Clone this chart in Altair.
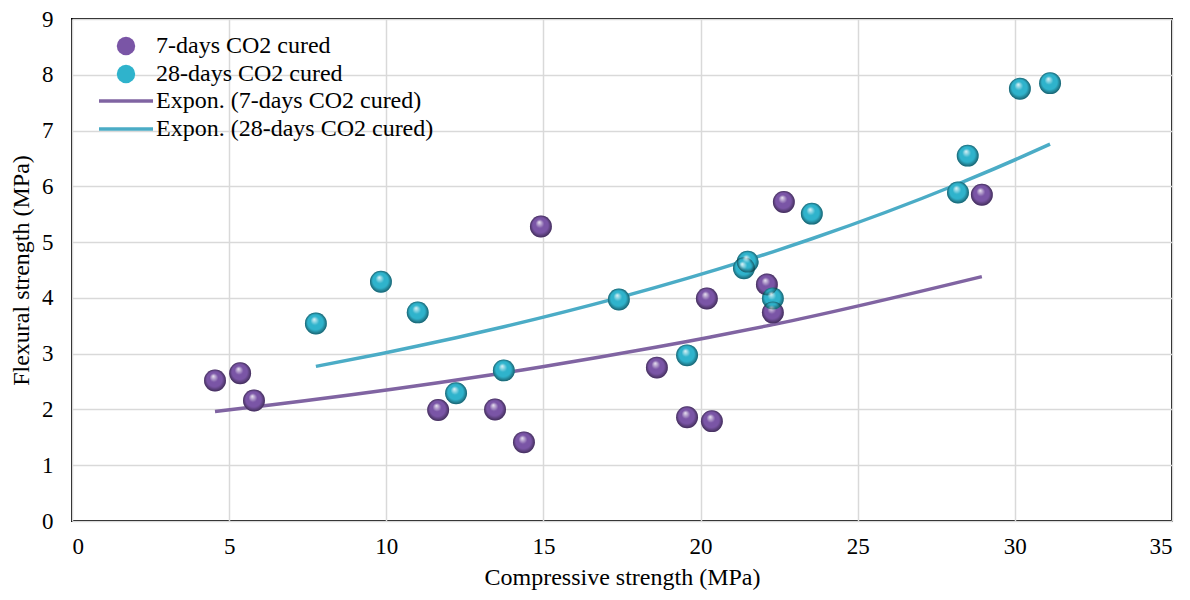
import altair as alt
import pandas as pd

seven_x = [4.55, 5.35, 5.79, 11.65, 13.46, 14.38, 14.92, 18.61, 19.57, 20.20, 20.36, 22.11, 22.30, 22.65, 28.95]
seven_y = [2.52, 2.65, 2.16, 1.99, 2.00, 1.41, 5.28, 2.75, 1.86, 3.99, 1.79, 4.24, 3.74, 5.72, 5.85]
twenty_x = [7.76, 9.83, 11.00, 12.22, 13.74, 17.40, 19.57, 21.38, 21.50, 22.30, 23.54, 28.19, 28.50, 30.16, 31.12]
twenty_y = [3.54, 4.29, 3.74, 2.29, 2.70, 3.97, 2.97, 4.53, 4.65, 3.99, 5.51, 5.89, 6.55, 7.75, 7.85]

series_names = ["7-days CO2 cured", "28-days CO2 cured"]
point_colors = ["#7a55a6", "#2fb3cc"]
line_labels = ["Expon. (7-days CO2 cured)", "Expon. (28-days CO2 cured)"]
line_colors = ["#8064A2", "#4BACC6"]

df = pd.DataFrame({
    "x": seven_x + twenty_x,
    "y": seven_y + twenty_y,
    "series": [series_names[0]] * len(seven_x) + [series_names[1]] * len(twenty_x),
})

FONT = "Liberation Serif"

x_axis = alt.Axis(values=list(range(0, 36, 5)), title="Compressive strength (MPa)", titlePadding=7)
y_axis = alt.Axis(values=list(range(0, 10)), title="Flexural strength (MPa)", titlePadding=8)
xscale = alt.Scale(domain=[0, 35], nice=False)
yscale = alt.Scale(domain=[0, 9], nice=False)

base = alt.Chart(df)

# Exponential trend (least squares on ln y, like a spreadsheet "Expon." trendline)
lines = base.transform_calculate(
    ly="log(datum.y)", xly="datum.x * log(datum.y)", xx="datum.x * datum.x"
).transform_joinaggregate(
    mx="mean(x)", mly="mean(ly)", mxly="mean(xly)", mxx="mean(xx)", groupby=["series"]
).transform_calculate(
    b="(datum.mxly - datum.mx * datum.mly) / (datum.mxx - datum.mx * datum.mx)"
).transform_calculate(
    fit="exp(datum.mly - datum.b * datum.mx + datum.b * datum.x)",
    label="'Expon. (' + datum.series + ')'",
).mark_line(strokeWidth=3.5, interpolate="monotone").encode(
    x=alt.X("x:Q", scale=xscale, axis=x_axis),
    y=alt.Y("fit:Q", scale=yscale, axis=y_axis),
    order="x:Q",
    stroke=alt.Stroke("label:N", scale=alt.Scale(domain=line_labels, range=line_colors),
                      legend=alt.Legend(title=None, orient="none", legendX=42, legendY=70,
                                        symbolType="M-3,0H3", symbolSize=324,
                                        symbolStrokeWidth=3.5, labelFontSize=24,
                                        labelFont=FONT, labelColor="black", rowPadding=4,
                                        padding=0, labelOffset=18, labelLimit=500)),
)

points = base.mark_point(filled=True, size=480, opacity=1, strokeWidth=0).encode(
    x=alt.X("x:Q", scale=xscale, axis=x_axis),
    y=alt.Y("y:Q", scale=yscale, axis=y_axis),
    fill=alt.Fill("series:N", scale=alt.Scale(domain=series_names, range=point_colors),
                  legend=alt.Legend(title=None, orient="none", legendX=42, legendY=15,
                                    symbolType="circle", symbolSize=340,
                                    labelFontSize=24, labelFont=FONT, labelColor="black",
                                    rowPadding=4, padding=0, labelOffset=18, labelLimit=500)),
)

shine = base.mark_point(
    filled=True, size=480, opacity=1, strokeWidth=0,
    fill=alt.Gradient(
        gradient="radial",
        stops=[
            alt.GradientStop(offset=0, color="rgba(255,255,255,0.85)"),
            alt.GradientStop(offset=0.4, color="rgba(255,255,255,0)"),
            alt.GradientStop(offset=0.7, color="rgba(0,0,0,0)"),
            alt.GradientStop(offset=1, color="rgba(0,0,0,0.45)"),
        ],
        x1=0.42, y1=0.3, r1=0, x2=0.5, y2=0.5, r2=0.5,
    ),
).encode(x=alt.X("x:Q", scale=xscale, axis=x_axis), y=alt.Y("y:Q", scale=yscale, axis=y_axis))

chart = alt.layer(lines, points, shine).properties(
    width=1100, height=502,
    autosize=alt.AutoSizeParams(type="none"),
    padding={"left": 64, "top": 11, "right": 10, "bottom": 71},
).configure(
    font=FONT
).configure_view(
    stroke="black", strokeWidth=2
).configure_axis(
    labelFont=FONT, titleFont=FONT, labelFontSize=23, titleFontSize=24,
    labelColor="black", titleColor="black", titleFontWeight="normal",
    grid=True, gridColor="#d9d9d9", gridWidth=1.5, domain=False, ticks=False,
    labelPadding=19,
).configure_axisX(labelPadding=14)

chart.save("out.html", embed_options={"renderer": "svg", "actions": False})
